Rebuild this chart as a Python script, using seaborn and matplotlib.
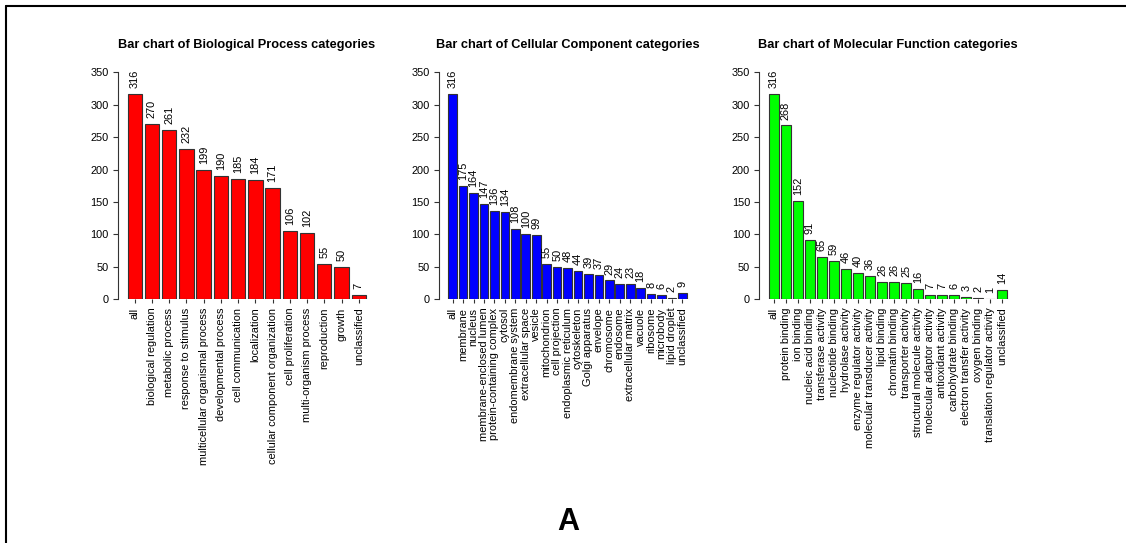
import numpy as np
import pandas as pd
import matplotlib
matplotlib.use("Agg")
import matplotlib.pyplot as plt
from matplotlib.lines import Line2D
import seaborn as sns

# Biological Process
bp_labels = ["all", "biological regulation", "metabolic process", "response to stimulus",
             "multicellular organismal process", "developmental process", "cell communication",
             "localization", "cellular component organization", "cell proliferation",
             "multi-organism process", "reproduction", "growth", "unclassified"]
bp_counts = [316, 270, 261, 232, 199, 190, 185, 184, 171, 106, 102, 55, 50, 7]

# Cellular Component
cc_labels = ["all", "membrane", "nucleus", "membrane-enclosed lumen", "protein-containing complex",
             "cytosol", "endomembrane system", "extracellular space", "vesicle", "mitochondrion",
             "cell projection", "endoplasmic reticulum", "cytoskeleton", "Golgi apparatus",
             "envelope", "chromosome", "endosome", "extracellular matrix", "vacuole",
             "ribosome", "microbody", "lipid droplet", "unclassified"]
cc_counts = [316, 175, 164, 147, 136, 134, 108, 100, 99, 55, 50, 48, 44, 39, 37, 29, 24, 23, 18,
             8, 6, 2, 9]

# Molecular Function
mf_labels = ["all", "protein binding", "ion binding", "nucleic acid binding", "transferase activity",
             "nucleotide binding", "hydrolase activity", "enzyme regulator activity",
             "molecular transducer activity", "lipid binding", "chromatin binding",
             "transporter activity", "structural molecule activity", "molecular adaptor activity",
             "antioxidant activity", "carbohydrate binding", "electron transfer activity",
             "oxygen binding", "translation regulator activity", "unclassified"]
mf_counts = [316, 268, 152, 91, 65, 59, 46, 40, 36, 26, 26, 25, 16, 7, 7, 6, 3, 2, 1, 14]

titles = ["Bar chart of Biological Process categories",
          "Bar chart of Cellular Component categories",
          "Bar chart of Molecular Function categories"]
colors = ["#FF0000", "#0000FF", "#00FF00"]
yticks = [0, 50, 100, 150, 200, 250, 300, 350]

sns.set_style("white")
plt.rcParams["font.family"] = ["Liberation Sans", "DejaVu Sans"]
plt.rcParams["text.color"] = "black"
plt.rcParams["xtick.color"] = "black"
plt.rcParams["ytick.color"] = "black"

W, H = 1126, 543
fig = plt.figure(figsize=(W / 100, H / 100), dpi=100)

panels = [(bp_labels, bp_counts), (cc_labels, cc_counts), (mf_labels, mf_counts)]
lefts_px = [118, 438.8, 759.3]
ax_w = 257.5 / W
ax_b = (H - 299.3) / H
ax_h = (299.3 - 72.3) / H
bw = 1 / 1.2
fs = 7.9

for (labels, counts), left, title, col in zip(panels, lefts_px, titles, colors):
    ax = fig.add_axes([left / W, ax_b, ax_w, ax_h])
    df = pd.DataFrame({"category": labels, "count": counts})
    sns.barplot(data=df, x="category", y="count", order=labels, color=col,
                saturation=1, width=bw, edgecolor="#333333", linewidth=0.8, ax=ax)
    n = len(labels)
    ext = 0.04 * (n - 1 + bw)
    ax.set_xlim(-bw / 2 - ext, n - 1 + bw / 2 + ext)
    ax.set_ylim(0, 350)
    for s in ["top", "right", "bottom"]:
        ax.spines[s].set_visible(False)
    ax.spines["left"].set_bounds(0, 350)
    ax.spines["left"].set_linewidth(0.8)
    ax.spines["left"].set_color("#333333")
    ax.set_yticks(yticks)
    ax.set_yticklabels([str(t) for t in yticks], fontsize=fs)
    ax.set_xticks(range(n))
    ax.set_xticklabels(labels, rotation=90, fontsize=fs)
    ax.tick_params(axis="y", length=3.6, width=0.8, pad=3, color="#333333", left=True)
    ax.tick_params(axis="x", length=3, width=0.8, pad=3, color="#333333", bottom=True)
    ax.set_xlabel("")
    ax.set_ylabel("")
    for i, v in enumerate(counts):
        ax.annotate(str(v), (i, v), xytext=(0, 4.3), textcoords="offset points",
                    rotation=90, ha="center", va="bottom", fontsize=fs,
                    annotation_clip=False)
    cx = (left + 257.5 / 2) / W
    fig.text(cx, 1 - 45 / H, title, ha="center", va="center",
             fontsize=9.2, fontweight="bold")

fig.text(568.5 / W, 1 - 522.5 / H, "A", ha="center", va="center",
         fontsize=22, fontweight="bold")

# frame lines at left and top edge
fig.add_artist(Line2D([5.5 / W, 5.5 / W], [0, 1 - 5.5 / H], color="black", lw=1.5))
fig.add_artist(Line2D([5.5 / W, 1], [1 - 5.5 / H, 1 - 5.5 / H], color="black", lw=1.5))

fig.savefig("out.png", dpi=100)
